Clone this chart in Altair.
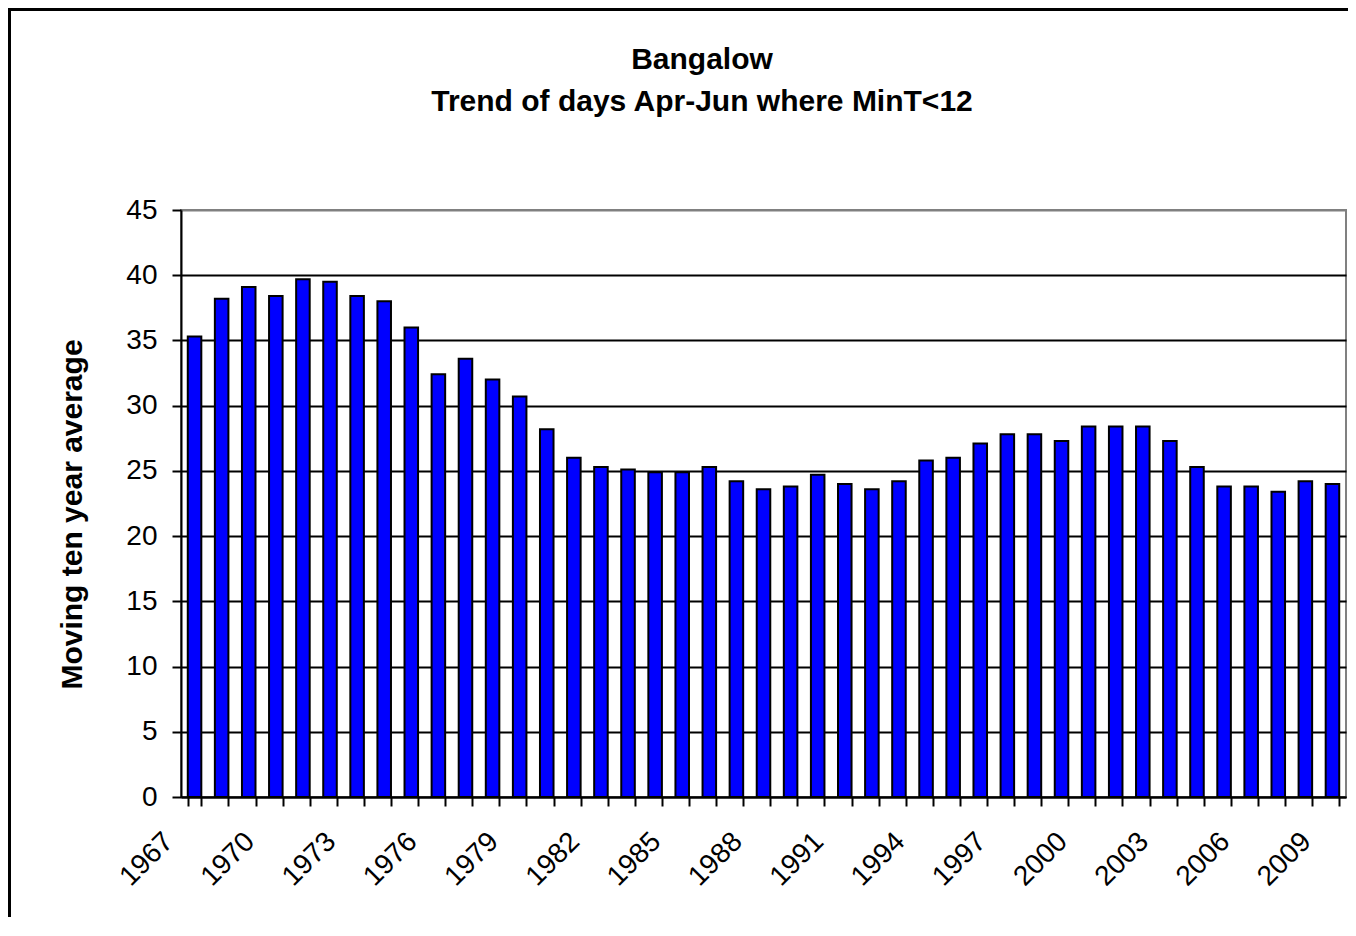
import json
import altair as alt
import pandas as pd

years = [str(y) for y in range(1967, 2010)]
values = [35.3, 38.2, 39.1, 38.4, 39.7, 39.5, 38.4, 38.0, 36.0, 32.4,
          33.6, 32.0, 30.7, 28.2, 26.0, 25.3, 25.1, 24.9, 24.9, 25.3,
          24.2, 23.6, 23.8, 24.7, 24.0, 23.6, 24.2, 25.8, 26.0, 27.1,
          27.8, 27.8, 27.3, 28.4, 28.4, 28.4, 27.3, 25.3, 23.8, 23.8,
          23.4, 24.2, 24.0]
x_tick_labels = ["1967", "1970", "1973", "1976", "1979", "1982", "1985", "1988",
                 "1991", "1994", "1997", "2000", "2003", "2006", "2009"]
y_ticks = [0, 5, 10, 15, 20, 25, 30, 35, 40, 45]

title_lines = ["Bangalow", "Trend of days Apr-Jun where MinT<12"]
y_title = "Moving ten year average"

FONT = "Liberation Sans"
W, H = 1165, 587

df = pd.DataFrame({"year": years, "value": values})

label_expr = f"indexof({json.dumps(x_tick_labels)}, datum.label) >= 0 ? datum.label : ''"

bars = alt.Chart(df).mark_bar(
    color="#0000FF", stroke="black", strokeWidth=2
).encode(
    x=alt.X("year:O", sort=None,
            scale=alt.Scale(paddingInner=0.5, paddingOuter=0.25),
            axis=alt.Axis(title=None, labelExpr=label_expr, labelOverlap=False,
                          labelAngle=315, labelAlign="right", labelBaseline="middle",
                          labelOffset=-26, labelPadding=31, labelFontSize=28,
                          labelFont=FONT, labelColor="black",
                          tickBand="extent", tickSize=9, tickWidth=2, tickColor="black",
                          domainColor="black", domainWidth=2, grid=False)),
    y=alt.Y("value:Q",
            scale=alt.Scale(domain=[0, 45], nice=False),
            axis=alt.Axis(title=y_title, values=y_ticks, labelFontSize=28,
                          labelFont=FONT, labelColor="black", labelPadding=15,
                          tickSize=9, tickWidth=2, tickColor="black",
                          domainColor="black", domainWidth=2,
                          grid=True, gridWidth=2.2,
                          gridColor={"condition": {"test": "datum.value === 45", "value": "#808080"},
                                     "value": "black"},
                          titleFont=FONT, titleFontSize=30, titleFontWeight="bold",
                          titleColor="black", titleAngle=270, titleX=-109, titleY=304,
                          titleAlign="center", titleBaseline="middle")),
)

frame_df = pd.DataFrame({"a": [0]})
frame_left = alt.Chart(frame_df).mark_rule(color="black", strokeWidth=3).encode(
    x=alt.value(-171.5), y=alt.value(-202), y2=alt.value(H + 120)
)
frame_top = alt.Chart(frame_df).mark_rule(color="black", strokeWidth=3).encode(
    y=alt.value(-200.5), x=alt.value(-173), x2=alt.value(W + 2)
)

chart = alt.layer(bars, frame_left, frame_top).properties(
    width=W, height=H,
    title=alt.TitleParams(text=title_lines, fontSize=30, fontWeight="bold", font=FONT,
                          color="black", anchor="middle", frame="group",
                          lineHeight=42, baseline="alphabetic", offset=0,
                          dx=-61.5, dy=134),
    autosize=alt.AutoSizeParams(type="none"),
    padding={"left": 173, "top": 202, "right": 2, "bottom": 120},
    background="white",
).configure_view(stroke="#808080", strokeWidth=2)

chart.save("out.html", embed_options={"renderer": "svg", "actions": False})
